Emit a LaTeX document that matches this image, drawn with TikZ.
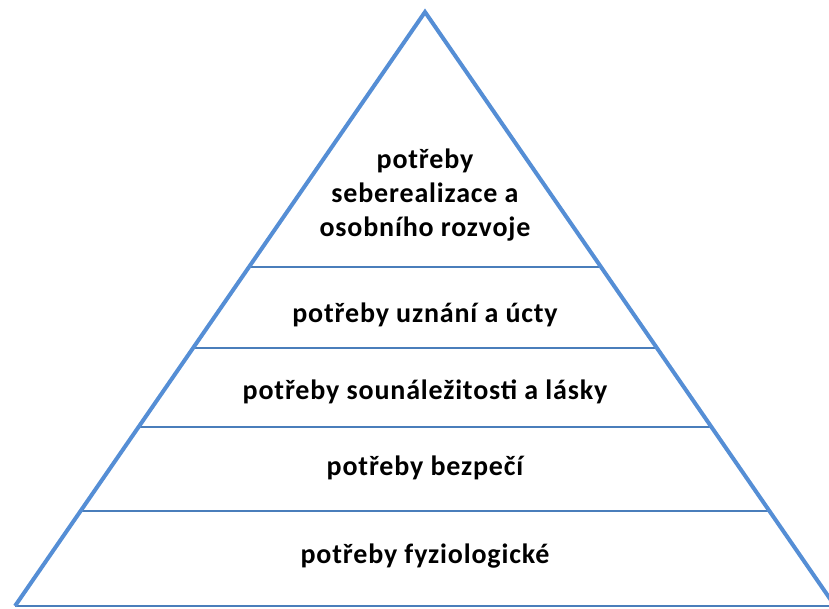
\documentclass[tikz,border=0pt]{standalone}
\usepackage{fontspec}
\setmainfont{Carlito}
\newfontfamily\lblfont[LetterSpace=3]{Carlito}
\definecolor{edgeblue}{HTML}{558ED5}
\definecolor{lineblue}{HTML}{4A7EBB}
\begin{document}
\begin{tikzpicture}[x=1pt,y=-1pt,
  lbl/.style={font=\lblfont\bfseries\fontsize{28}{34}\selectfont, align=center, text=black, inner sep=0pt}]
\useasboundingbox (0,0) rectangle (829,608);
\begin{scope}
\clip (0,0) rectangle (829,608);
\coordinate (apex) at (425,12);
\coordinate (baseL) at (15,606);
\coordinate (baseR) at (835,606);
\draw[lineblue, line width=2.2pt] (baseL) -- (baseR);
\foreach \y/\n in {267/a,348/b,427/c,511/d}{
  \pgfmathsetmacro{\dx}{0.6902*(606-\y)}
  \coordinate (left\n) at ({15+\dx},\y);
  \coordinate (right\n) at ({835-\dx},\y);
  \draw[lineblue, line width=2pt] (left\n) -- (right\n);
}
\draw[edgeblue, line width=4pt, line join=miter] (baseL) -- (apex) -- (baseR);
\end{scope}
\node[lbl] (t1) at (425,195) {potřeby\\seberealizace a\\osobního rozvoje};
\node[lbl] (t2) at (425,315) {potřeby uznání a úcty};
\node[lbl] (t3) at (425,392) {potřeby sounáležitosti a lásky};
\node[lbl] (t4) at (425,468) {potřeby bezpečí};
\node[lbl] (t5) at (425,556) {potřeby fyziologické};
\end{tikzpicture}
\end{document}
